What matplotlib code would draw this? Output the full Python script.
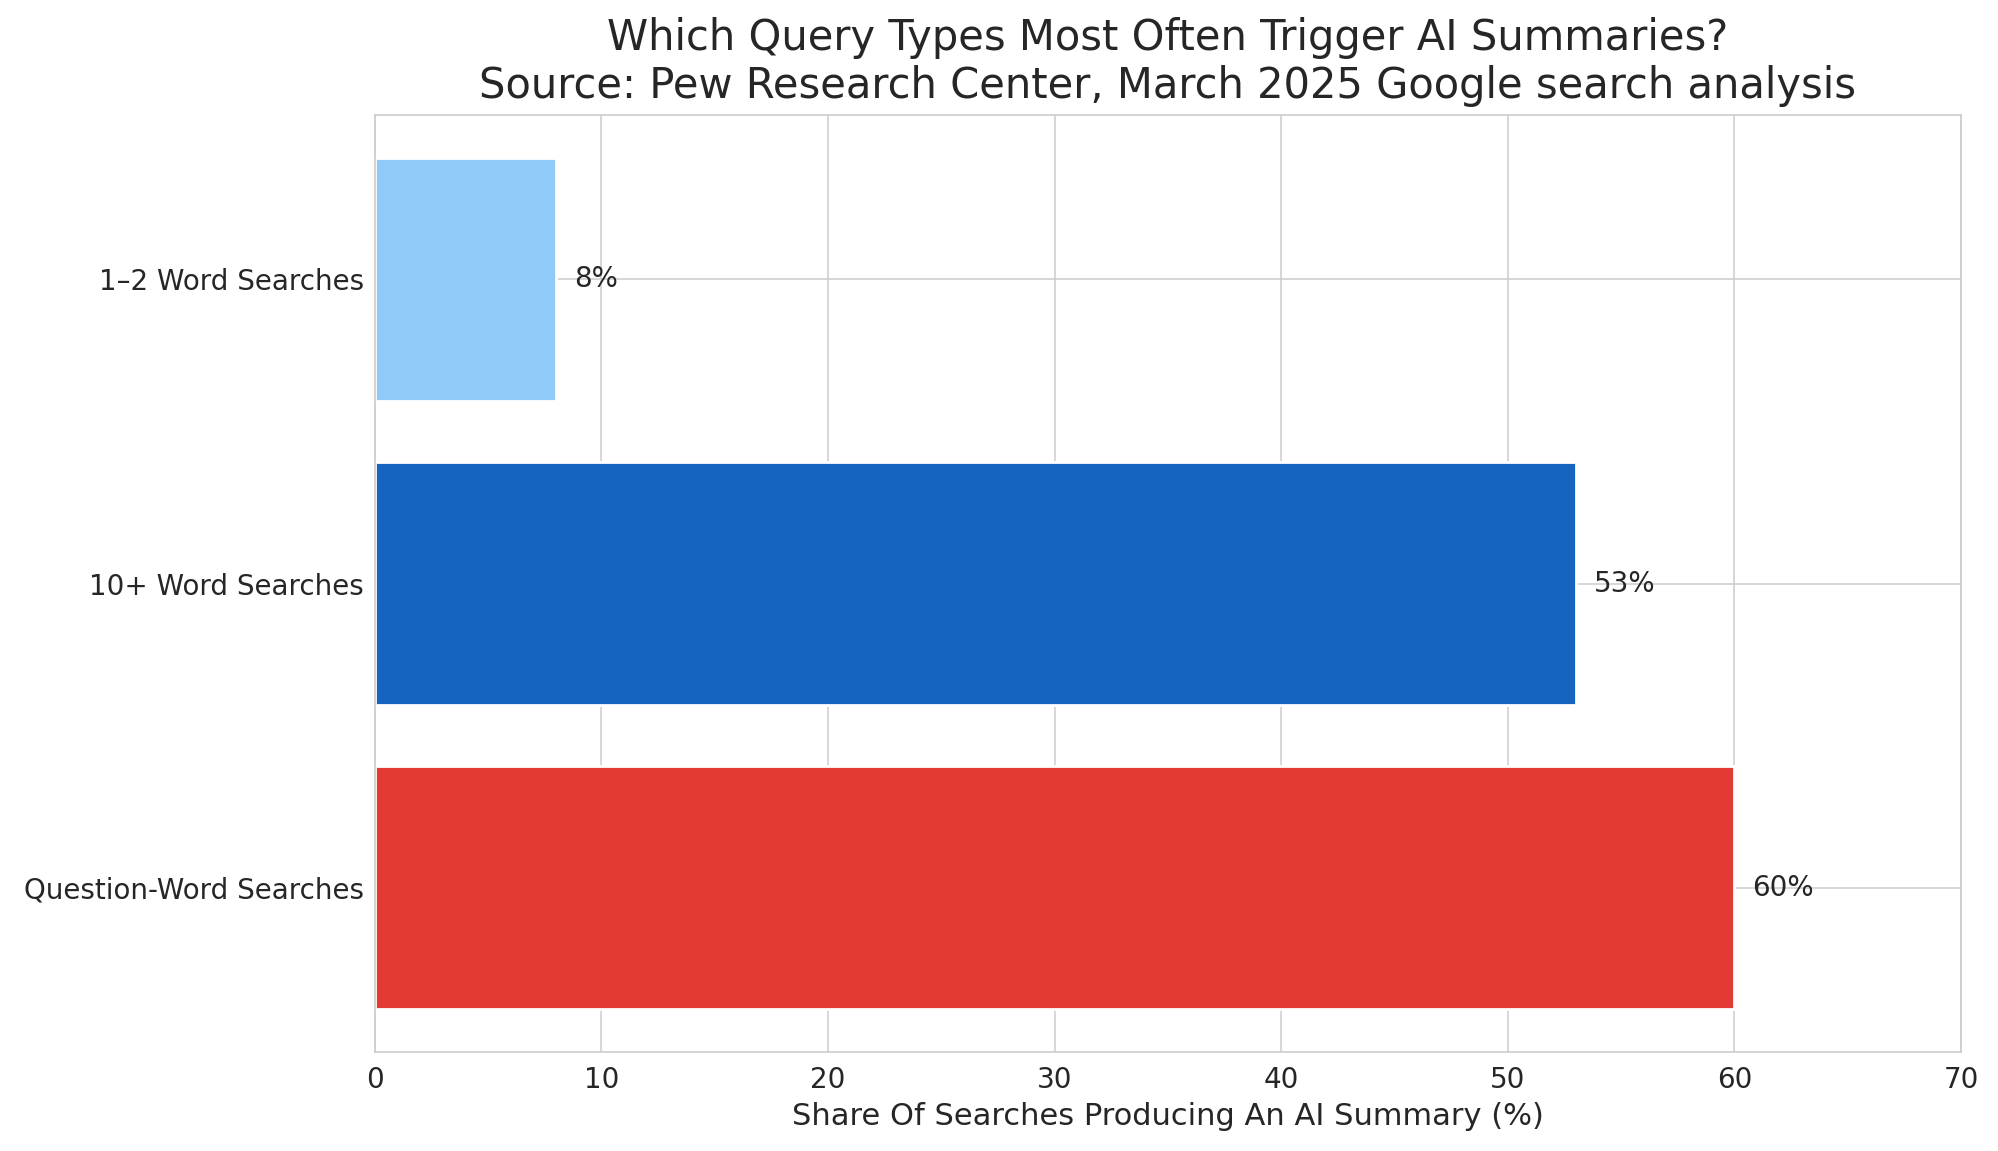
import matplotlib
matplotlib.use("Agg")
import matplotlib.pyplot as plt
import seaborn as sns

# values
categories = ["Question-Word Searches", "10+ Word Searches", "1\u20132 Word Searches"]
shares = [60, 53, 8]
bar_colors = ["#E53935", "#1565C0", "#90CAF9"]

sns.set_theme(style="whitegrid")
plt.rcParams["grid.linewidth"] = 0.55
plt.rcParams["axes.linewidth"] = 0.6

fig, ax = plt.subplots(figsize=(9.995, 5.755), dpi=200)
bars = ax.barh(categories, shares, color=bar_colors, height=0.8)

# value labels just past the bar ends
for bar, val in zip(bars, shares):
    ax.text(bar.get_width() + 0.8, bar.get_y() + bar.get_height() / 2,
            f"{val}%", va="center", ha="left", fontsize=10, color="#262626")

ax.set_xlim(0, 70)
ax.set_xlabel("Share Of Searches Producing An AI Summary (%)", fontsize=11, labelpad=3)
ax.set_title("Which Query Types Most Often Trigger AI Summaries?\n"
             "Source: Pew Research Center, March 2025 Google search analysis",
             fontsize=15)
ax.tick_params(axis="x", labelsize=10, length=0, pad=5)
ax.tick_params(axis="y", labelsize=10, length=0, pad=4)

fig.subplots_adjust(left=0.1875, right=0.981, top=0.9, bottom=0.086)
fig.savefig("out.png", dpi=200)
